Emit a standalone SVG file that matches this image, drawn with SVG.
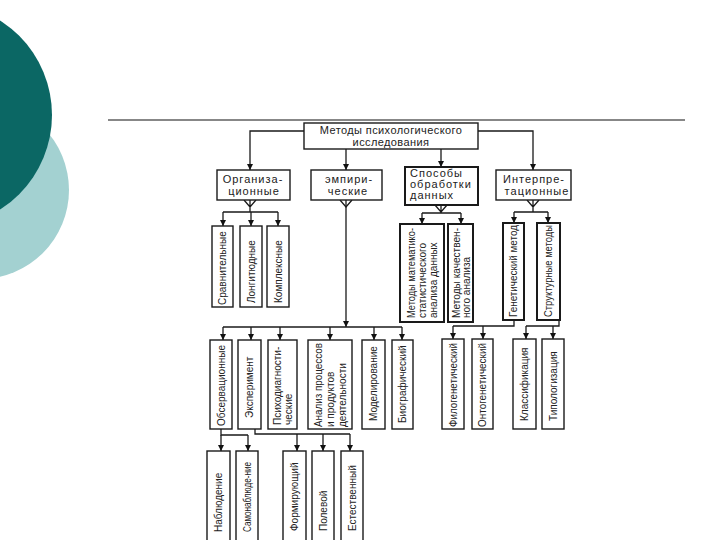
<svg xmlns="http://www.w3.org/2000/svg" width="720" height="540" viewBox="0 0 720 540">
<style>
.bx{fill:#fff;stroke:#1a1a1a;stroke-width:1.4}
.bk{fill:#fff;stroke:#1a1a1a;stroke-width:2}
.ln{fill:none;stroke:#1a1a1a;stroke-width:1.3}
.t{font-family:"Liberation Sans",Arial,sans-serif;font-size:10px;fill:#222}
.th{font-family:"Liberation Sans",Arial,sans-serif;font-size:11px;fill:#222;letter-spacing:1px}
.tt{font-family:"Liberation Sans",Arial,sans-serif;font-size:11px;fill:#222;letter-spacing:0.4px}
</style>
<defs>
<marker id="ah" viewBox="0 0 8 8" refX="8" refY="4" markerWidth="6" markerHeight="6" markerUnits="userSpaceOnUse" orient="auto">
<path d="M0,0 L8,4 L0,8 z" fill="#111"/>
</marker>
</defs>
<rect width="720" height="540" fill="#fff"/>
<g id="background">
<circle cx="-20" cy="190" r="89" fill="#a3d1d1"/>
<circle cx="-60" cy="115" r="112" fill="#0b6764"/>
<line x1="108" y1="120" x2="685" y2="120" stroke="#111" stroke-width="1.2"/>
</g>
<g id="connectors">
<path class="ln" d="M304,131 H250 V170" marker-end="url(#ah)"/>
<path class="ln" d="M478,131 H533 V170" marker-end="url(#ah)"/>
<path class="ln" d="M346,149 V170" marker-end="url(#ah)"/>
<path class="ln" d="M441,149 V167" marker-end="url(#ah)"/>
<path class="ln" d="M244,200 L250,207 L256,200 M250,200 V212 M223,212 H278"/>
<path class="ln" d="M223,212 V226" marker-end="url(#ah)"/>
<path class="ln" d="M251,212 V226" marker-end="url(#ah)"/>
<path class="ln" d="M278,212 V226" marker-end="url(#ah)"/>
<path class="ln" d="M340,200 L346,207 L352,200"/>
<path class="ln" d="M346,200 V327" marker-end="url(#ah)"/>
<path class="ln" d="M223,327 H402"/>
<path class="ln" d="M223,327 V340" marker-end="url(#ah)"/>
<path class="ln" d="M251,327 V340" marker-end="url(#ah)"/>
<path class="ln" d="M280,327 V340" marker-end="url(#ah)"/>
<path class="ln" d="M330,327 V340" marker-end="url(#ah)"/>
<path class="ln" d="M374,327 V340" marker-end="url(#ah)"/>
<path class="ln" d="M402,327 V340" marker-end="url(#ah)"/>
<path class="ln" d="M435,205 L441,212 L447,205 M441,205 V213 M422,213 H461"/>
<path class="ln" d="M422,213 V224" marker-end="url(#ah)"/>
<path class="ln" d="M461,213 V224" marker-end="url(#ah)"/>
<path class="ln" d="M527,200 L533,207 L539,200 M533,200 V212 M514,212 H548"/>
<path class="ln" d="M514,212 V223" marker-end="url(#ah)"/>
<path class="ln" d="M548,212 V223" marker-end="url(#ah)"/>
<path class="ln" d="M514,320 V326 H453"/>
<path class="ln" d="M453,326 V339" marker-end="url(#ah)"/>
<path class="ln" d="M483,326 V339" marker-end="url(#ah)"/>
<path class="ln" d="M559,320 V326 H526"/>
<path class="ln" d="M526,326 V339" marker-end="url(#ah)"/>
<path class="ln" d="M553,326 V339" marker-end="url(#ah)"/>
<path class="ln" d="M221,429 V435 H248"/>
<path class="ln" d="M221,435 V451" marker-end="url(#ah)"/>
<path class="ln" d="M248,435 V451" marker-end="url(#ah)"/>
<path class="ln" d="M255,429 V434 H350"/>
<path class="ln" d="M297,434 V451" marker-end="url(#ah)"/>
<path class="ln" d="M323,434 V451" marker-end="url(#ah)"/>
<path class="ln" d="M350,434 V451" marker-end="url(#ah)"/>
</g>
<g id="n-root"><rect class="bx" x="304" y="123" width="174" height="26"/>
<text class="tt" x="391" y="134" text-anchor="middle">Методы психологического</text>
<text class="tt" x="391" y="146" text-anchor="middle">исследования</text></g>
<g id="n-org"><rect class="bx" x="217" y="170" width="73" height="30"/>
<text class="th" x="253" y="183" text-anchor="middle">Организа-</text>
<text class="th" x="254" y="195" text-anchor="middle">ционные</text></g>
<g id="n-emp"><rect class="bx" x="311" y="170" width="71" height="30"/>
<text class="th" x="349" y="183" text-anchor="middle">эмпири-</text>
<text class="th" x="348" y="195" text-anchor="middle">ческие</text></g>
<g id="n-spos"><rect class="bk" x="405" y="167" width="73" height="38"/>
<text class="th" x="410" y="177">Способы</text>
<text class="th" x="410" y="188">обработки</text>
<text class="th" x="410" y="199">данных</text></g>
<g id="n-interp"><rect class="bx" x="496" y="170" width="75" height="30"/>
<text class="th" x="534" y="183" text-anchor="middle">Интерпре-</text>
<text class="th" x="537" y="195" text-anchor="middle">тационные</text></g>
<g id="n-sravn"><rect class="bx" x="212" y="226" width="21" height="81"/>
<text class="t" transform="translate(226,305) rotate(-90)">Сравнительные</text></g>
<g id="n-long"><rect class="bx" x="240" y="226" width="22" height="81"/>
<text class="t" transform="translate(254.5,303) rotate(-90)">Лонгитюдные</text></g>
<g id="n-kompl"><rect class="bx" x="267" y="226" width="22" height="81"/>
<text class="t" transform="translate(281.5,303) rotate(-90)">Комплексные</text></g>
<g id="n-mat"><rect class="bk" x="400" y="224" width="44" height="98"/>
<text class="t" transform="translate(414.5,318) rotate(-90)"><tspan textLength="90" lengthAdjust="spacingAndGlyphs">Методы математико-</tspan><tspan x="0" dy="11">статистического</tspan><tspan x="0" dy="11">анализа данных</tspan></text></g>
<g id="n-kach"><rect class="bk" x="448" y="224" width="25" height="98"/>
<text class="t" transform="translate(459.5,318) rotate(-90)"><tspan textLength="90" lengthAdjust="spacingAndGlyphs">Методы качествен-</tspan><tspan x="0" dy="10">ного анализа</tspan></text></g>
<g id="n-gen"><rect class="bk" x="503" y="223" width="21" height="97"/>
<text class="t" transform="translate(517,317) rotate(-90)" textLength="92" lengthAdjust="spacingAndGlyphs">Генетический метод</text></g>
<g id="n-struct"><rect class="bk" x="537" y="223" width="23" height="97"/>
<text class="t" transform="translate(552,317) rotate(-90)" textLength="92" lengthAdjust="spacingAndGlyphs">Структурные методы</text></g>
<g id="n-obs"><rect class="bx" x="210" y="340" width="22" height="89"/>
<text class="t" transform="translate(224.5,426) rotate(-90)">Обсервационные</text></g>
<g id="n-exp"><rect class="bx" x="238" y="340" width="23" height="89"/>
<text class="t" transform="translate(253,418) rotate(-90)">Эксперимент</text></g>
<g id="n-psy"><rect class="bx" x="268" y="340" width="29" height="89"/>
<text class="t" transform="translate(281,425) rotate(-90)">Психодиагности-<tspan x="0" dy="11">ческие</tspan></text></g>
<g id="n-anal"><rect class="bx" x="308" y="340" width="44" height="89"/>
<text class="t" transform="translate(321.5,427) rotate(-90)"><tspan textLength="84" lengthAdjust="spacingAndGlyphs">Анализ процессов</tspan><tspan x="0" dy="12">и продуктов</tspan><tspan x="0" dy="12">деятельности</tspan></text></g>
<g id="n-mod"><rect class="bx" x="362" y="340" width="23" height="89"/>
<text class="t" transform="translate(377,421) rotate(-90)">Моделирование</text></g>
<g id="n-bio"><rect class="bx" x="392" y="340" width="21" height="89"/>
<text class="t" transform="translate(406,423) rotate(-90)">Биографический</text></g>
<g id="n-phil"><rect class="bx" x="442" y="339" width="22" height="90"/>
<text class="t" transform="translate(456.5,427) rotate(-90)" textLength="84" lengthAdjust="spacingAndGlyphs">Филогенетический</text></g>
<g id="n-onto"><rect class="bx" x="472" y="339" width="21" height="90"/>
<text class="t" transform="translate(486,427) rotate(-90)" textLength="84" lengthAdjust="spacingAndGlyphs">Онтогенетический</text></g>
<g id="n-klass"><rect class="bx" x="513" y="339" width="23" height="90"/>
<text class="t" transform="translate(528,421) rotate(-90)">Классификация</text></g>
<g id="n-tipo"><rect class="bx" x="542" y="339" width="22" height="90"/>
<text class="t" transform="translate(556.5,421) rotate(-90)">Типологизация</text></g>
<g id="n-nabl"><rect class="bx" x="207" y="451" width="23" height="110"/>
<text class="t" transform="translate(222,532) rotate(-90)">Наблюдение</text></g>
<g id="n-samo"><rect class="bx" x="236" y="451" width="22" height="110"/>
<text class="t" transform="translate(250.5,532) rotate(-90)" textLength="70" lengthAdjust="spacingAndGlyphs">Самонаблюде-ние</text></g>
<g id="n-form"><rect class="bx" x="283" y="451" width="23" height="110"/>
<text class="t" transform="translate(298,531) rotate(-90)">Формирующий</text></g>
<g id="n-pol"><rect class="bx" x="312" y="451" width="22" height="110"/>
<text class="t" transform="translate(326.5,531) rotate(-90)">Полевой</text></g>
<g id="n-est"><rect class="bx" x="341" y="451" width="22" height="110"/>
<text class="t" transform="translate(355.5,531) rotate(-90)">Естественный</text></g>
</svg>
